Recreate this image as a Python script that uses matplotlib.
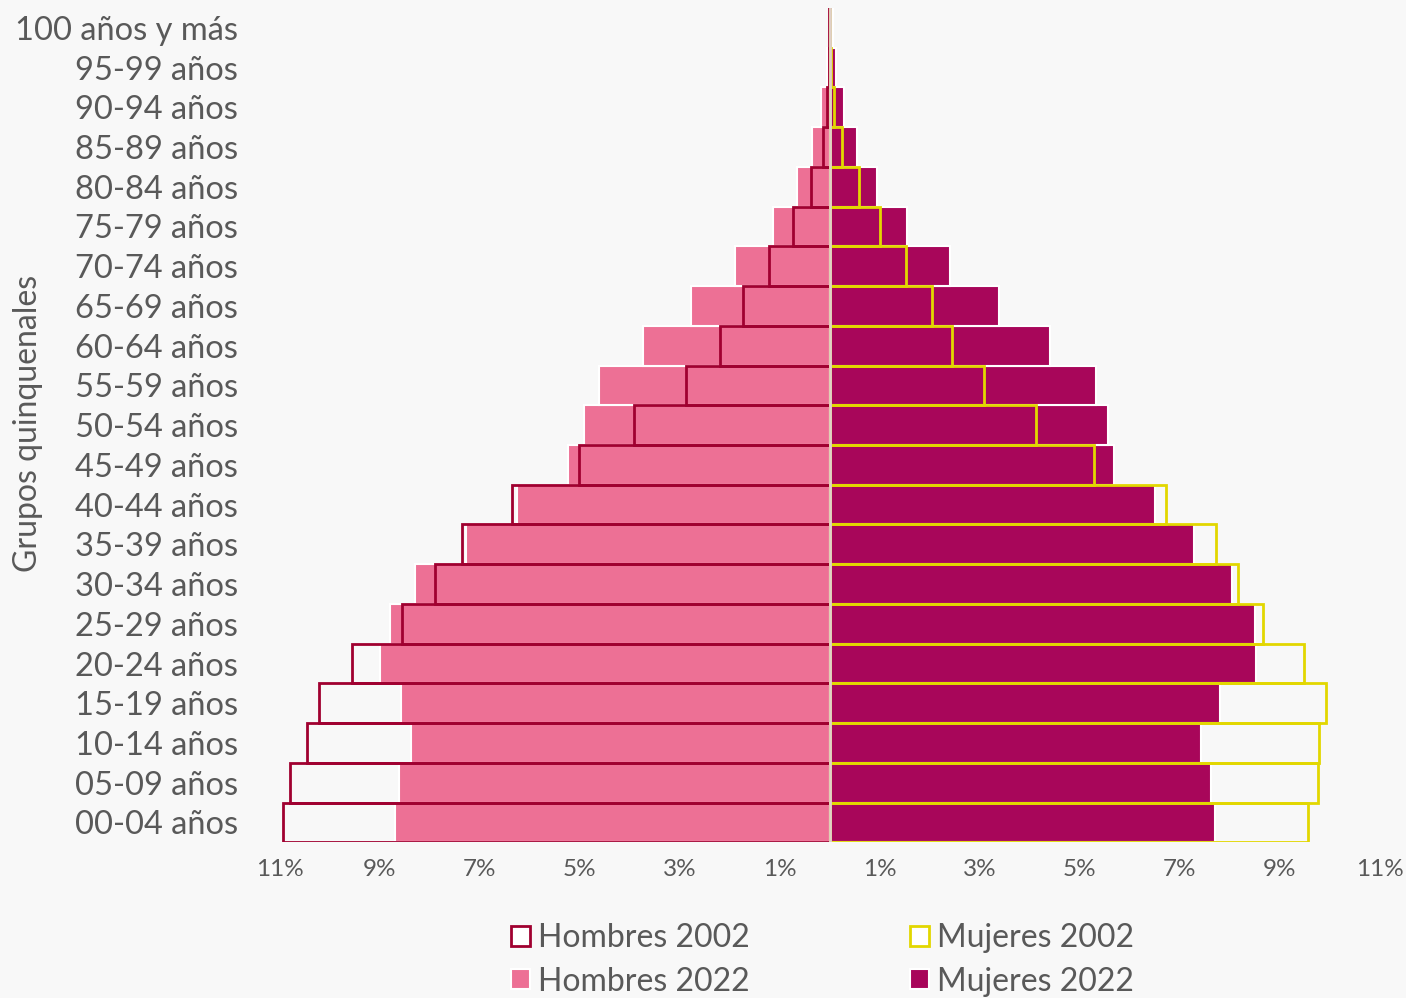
import numpy as np
import matplotlib.pyplot as plt
from matplotlib.patches import Patch

grupos = ["00-04 años", "05-09 años", "10-14 años", "15-19 años", "20-24 años",
          "25-29 años", "30-34 años", "35-39 años", "40-44 años", "45-49 años",
          "50-54 años", "55-59 años", "60-64 años", "65-69 años", "70-74 años",
          "75-79 años", "80-84 años", "85-89 años", "90-94 años", "95-99 años",
          "100 años y más"]

hombres_2002 = [10.94, 10.80, 10.46, 10.22, 9.56, 8.56, 7.90, 7.36, 6.36, 5.02,
                3.92, 2.88, 2.20, 1.74, 1.22, 0.74, 0.38, 0.14, 0.06, 0.02, 0.01]
hombres_2022 = [8.70, 8.62, 8.38, 8.58, 9.00, 8.80, 8.30, 7.28, 6.26, 5.24,
                4.92, 4.62, 3.74, 2.78, 1.90, 1.14, 0.66, 0.36, 0.18, 0.06, 0.02]
mujeres_2002 = [9.56, 9.76, 9.78, 9.92, 9.48, 8.66, 8.16, 7.72, 6.72, 5.28,
                4.12, 3.08, 2.44, 2.04, 1.52, 1.00, 0.58, 0.24, 0.08, 0.02, 0.01]
mujeres_2022 = [7.70, 7.62, 7.42, 7.80, 8.52, 8.50, 8.04, 7.28, 6.50, 5.68,
                5.56, 5.32, 4.40, 3.38, 2.40, 1.54, 0.94, 0.54, 0.28, 0.12, 0.06]

xticks = [-11, -9, -7, -5, -3, -1, 1, 3, 5, 7, 9, 11]

bg = "#f8f8f8"
txt = "#595959"
c_h02 = "#a00030"
c_m02 = "#e2d700"
c_h22 = "#ed7095"
c_m22 = "#a8065a"

plt.rcParams['font.family'] = ['Lato', 'DejaVu Sans']

fig = plt.figure(figsize=(14.06, 9.98), dpi=100, facecolor=bg)
ax = fig.add_axes([0.199, 0.156, 0.7825, 0.836], facecolor=bg)

y = np.arange(len(grupos))
ax.barh(y, -np.array(hombres_2022), height=1.0, color=c_h22, edgecolor="white", linewidth=1.5)
ax.barh(y, mujeres_2022, height=1.0, color=c_m22, edgecolor="white", linewidth=1.5)
ax.barh(y, -np.array(hombres_2002), height=1.0, fill=False, edgecolor=c_h02, linewidth=2)
ax.barh(y, mujeres_2002, height=1.0, fill=False, edgecolor=c_m02, linewidth=2)
ax.axvline(0, color="#e0d0c8", linewidth=2)

ax.set_xlim(-11, 11)
ax.set_ylim(-0.5, len(grupos) - 0.5)
ax.set_yticks(y)
ax.set_yticklabels(grupos, fontsize=23.5, color=txt)
ax.set_xticks(xticks)
ax.set_xticklabels([f"{abs(t)}%" for t in xticks], fontsize=17.5, color=txt)
ax.tick_params(length=0, pad=12)
ax.tick_params(axis='y', pad=30)
for s in ax.spines.values():
    s.set_visible(False)
fig.text(0.02, 0.576, "Grupos quinquenales", rotation=90, fontsize=23,
         color=txt, ha="center", va="center")

handles = [Patch(facecolor="white", edgecolor=c_h02, linewidth=2, label="Hombres 2002"),
           Patch(facecolor=c_h22, edgecolor="white", linewidth=1.5, label="Hombres 2022"),
           Patch(facecolor="white", edgecolor=c_m02, linewidth=2, label="Mujeres 2002"),
           Patch(facecolor=c_m22, edgecolor="white", linewidth=1.5, label="Mujeres 2022")]
leg = fig.legend(handles=handles, ncol=2, loc="upper center", bbox_to_anchor=(0.585, 0.091),
                 frameon=False, fontsize=23, handlelength=0.6, handleheight=0.6,
                 handletextpad=0.25, columnspacing=5.0, labelspacing=0.42, borderpad=0)
for t in leg.get_texts():
    t.set_color(txt)

fig.savefig("out.png", dpi=100, facecolor=bg)
